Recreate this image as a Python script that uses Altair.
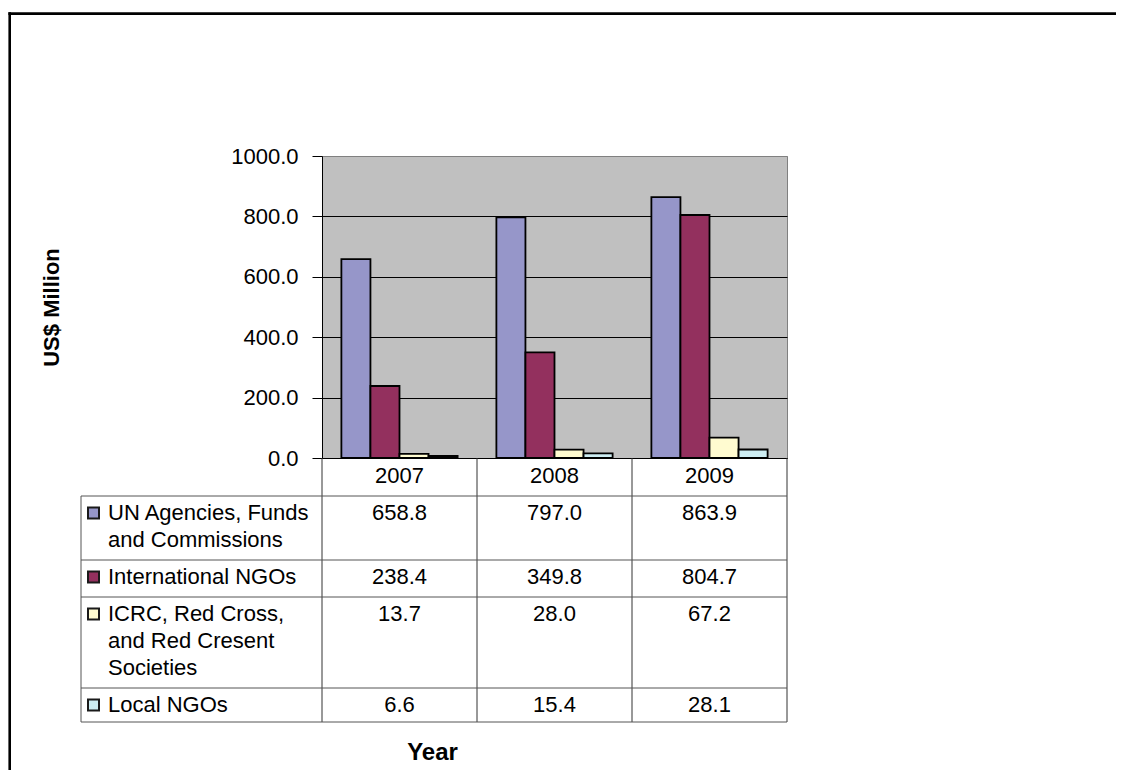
import altair as alt
import pandas as pd

# ---------------- data ----------------
years = ["2007", "2008", "2009"]
series = [
    "UN Agencies, Funds and Commissions",
    "International NGOs",
    "ICRC, Red Cross, and Red Cresent Societies",
    "Local NGOs",
]
table_labels = [
    "UN Agencies, Funds\nand Commissions",
    "International NGOs",
    "ICRC, Red Cross,\nand Red Cresent\nSocieties",
    "Local NGOs",
]
un_values = [658.8, 797.0, 863.9]
intl_ngo_values = [238.4, 349.8, 804.7]
icrc_values = [13.7, 28.0, 67.2]
local_ngo_values = [6.6, 15.4, 28.1]
colors = ["#9696C9", "#93305E", "#FFFBD0", "#CDEDF2"]
y_ticks = [0, 200, 400, 600, 800, 1000]

series_values = [un_values, intl_ngo_values, icrc_values, local_ngo_values]
rows = []
for s, lab, vals in zip(series, table_labels, series_values):
    for yr, v in zip(years, vals):
        rows.append({"year": yr, "series": s, "label": lab, "value": v})
df = pd.DataFrame(rows)

# ---------------- layout ----------------
FONT = "Liberation Sans"
W, H = 465, 302
PAD = {"left": 314, "top": 148, "right": 329, "bottom": 312}
TABLE_LEFT = -241
HEADER_H = 38
LINE_H = 27
ROW_PAD = 10
LABEL_X = -214
SWATCH_X = -228.5
TXT = 22

x_scale = alt.Scale(domain=years, paddingInner=0, paddingOuter=0)
color_scale = alt.Scale(domain=series, range=colors)


def xenc(**kw):
    return alt.X("year:N", sort=years, scale=x_scale, title="Year", **kw)


one = pd.DataFrame({"k": [0]})

# outer frame
frame_left = alt.Chart(one).mark_rule(color="black", strokeWidth=2.6).encode(
    x=alt.value(-312.3), y=alt.value(-143.7), y2=alt.value(700)
)
frame_top = alt.Chart(one).mark_rule(color="black", strokeWidth=2.6).encode(
    y=alt.value(-142.4), x=alt.value(-313.6), x2=alt.value(900)
)

bars = alt.Chart(df).mark_bar(stroke="black", strokeWidth=1.8).encode(
    x=xenc(
        axis=alt.Axis(
            orient="bottom",
            labelFontSize=TXT,
            labelFont=FONT,
            labelColor="black",
            labelPadding=7,
            labelAngle=0,
            ticks=False,
            domainColor="black",
            domainWidth=1,
            grid=False,
            titleFontSize=24,
            titleFont=FONT,
            titleFontWeight="bold",
            titleColor="black",
            titleX=110,
            titleY=294,
            titleAlign="center",
            titleBaseline="middle",
        )
    ),
    xOffset=alt.XOffset(
        "series:N", sort=series,
        scale=alt.Scale(domain=series, paddingInner=0, paddingOuter=0.667),
    ),
    y=alt.Y(
        "value:Q",
        scale=alt.Scale(domain=[0, 1000], nice=False),
        title="US$ Million",
        axis=alt.Axis(
            values=y_ticks,
            format=".1f",
            labelFontSize=22,
            labelFont=FONT,
            labelColor="black",
            labelPadding=14,
            tickSize=10,
            tickColor="black",
            domainColor="black",
            domainWidth=1,
            gridColor={
                "condition": {"test": "datum.value >= 1000", "value": "#808080"},
                "value": "black",
            },
            gridOpacity=1,
            gridWidth=1,
            titleFontSize=22,
            titleFont=FONT,
            titleFontWeight="bold",
            titleColor="black",
            titleX=-271,
            titleY=151,
            titleAngle=270,
            titleAlign="center",
            titleBaseline="middle",
        ),
    ),
    color=alt.Color("series:N", scale=color_scale, legend=None),
)

layers = [bars]

# table geometry (row heights follow the number of text lines)
row_tops = []
top = H + HEADER_H
for lab in table_labels:
    row_tops.append(top)
    top += ROW_PAD + LINE_H * (lab.count("\n") + 1)
table_bottom = top - 3

year_df = pd.DataFrame({"year": years})
layers.append(
    alt.Chart(year_df).mark_rule(color="#333333", strokeWidth=1).encode(
        x=xenc(bandPosition=0), y=alt.value(H), y2=alt.value(table_bottom)
    )
)
layers.append(
    alt.Chart(year_df).transform_filter(alt.datum.year == years[-1]).mark_rule(
        color="#333333", strokeWidth=1
    ).encode(x=xenc(bandPosition=1), y=alt.value(H), y2=alt.value(table_bottom))
)
layers.append(
    alt.Chart(one).mark_rule(color="#555555", strokeWidth=1).encode(
        x=alt.value(TABLE_LEFT), y=alt.value(row_tops[0]), y2=alt.value(table_bottom)
    )
)
for b in row_tops + [table_bottom]:
    layers.append(
        alt.Chart(one).mark_rule(color="#555555", strokeWidth=1).encode(
            x=alt.value(TABLE_LEFT), x2=alt.value(W), y=alt.value(b)
        )
    )

for s, rt in zip(series, row_tops):
    base = rt + 24
    sub = alt.Chart(df).transform_filter(alt.datum.series == s)
    layers.append(
        sub.mark_text(
            align="center", baseline="alphabetic", fontSize=TXT, font=FONT, color="black"
        ).encode(x=xenc(), y=alt.value(base), text=alt.Text("value:Q", format=".1f"))
    )
    first = sub.transform_filter(alt.datum.year == years[0])
    layers.append(
        first.mark_text(
            align="left", baseline="alphabetic", fontSize=TXT, font=FONT,
            color="black", lineBreak="\n", lineHeight=LINE_H,
        ).encode(x=alt.value(LABEL_X), y=alt.value(base), text="label:N")
    )
    layers.append(
        first.mark_square(size=121, stroke="#1a1a1a", strokeWidth=2, opacity=1).encode(
            x=alt.value(SWATCH_X),
            y=alt.value(base - 7),
            color=alt.Color("series:N", scale=color_scale, legend=None),
        )
    )

chart = alt.layer(frame_left, frame_top, *layers).properties(
    width=W,
    height=H,
    autosize=alt.AutoSizeParams(type="none"),
    padding=PAD,
    background="white",
).configure_view(
    fill="#C0C0C0", stroke="#808080", strokeWidth=1
)

chart.save("out.html", embed_options={"renderer": "svg", "actions": False})
